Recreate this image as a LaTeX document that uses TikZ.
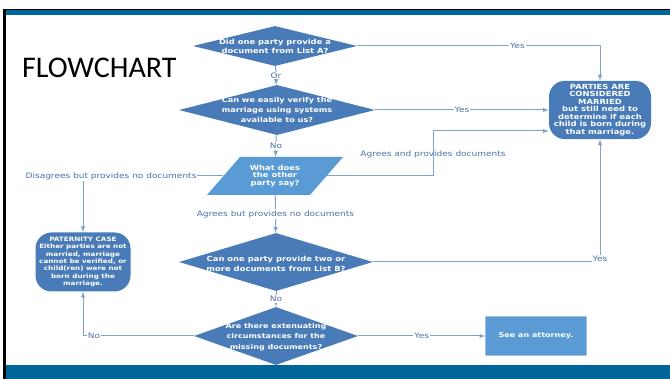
\documentclass[tikz,border=0pt]{standalone}
\usepackage{fontspec}
\setmainfont{DejaVu Sans}
\newfontfamily\widefont[FakeStretch=1.2]{DejaVu Sans}
\newfontfamily\titlefont{Carlito}
\usetikzlibrary{arrows}
\usetikzlibrary{shapes.geometric}
\definecolor{band}{RGB}{0,102,153}
\definecolor{boxblue}{RGB}{72,123,184}
\definecolor{lightbox}{RGB}{91,155,213}
\definecolor{linkblue}{RGB}{125,163,206}
\definecolor{lbltext}{RGB}{78,112,165}

\begin{document}
\begin{tikzpicture}[
		x=1pt,
		y=-1pt,
		>=latex,
		decision/.style={diamond, fill=boxblue, inner sep=0pt},
		txt/.style={text=white, font=\widefont\bfseries\fontsize{7.3}{9}\selectfont, align=center},
		io/.style={trapezium, trapezium left angle=49, trapezium right angle=131, fill=lightbox, inner xsep=35pt, inner ysep=19pt},
		outcome/.style={rectangle, rounded corners=16pt, fill=boxblue, text=white, align=center},
		link/.style={->, draw=linkblue, line width=1pt},
		lbl/.style={text=lbltext, font=\widefont\fontsize{7.5}{9}\selectfont, fill=white, inner sep=1pt}
	]
		\useasboundingbox (0,0) rectangle (670,379);
		\fill[black] (3,9) rectangle (6,379);
		\fill[black] (3,9) rectangle (670,10);
		\fill[band] (6,10) rectangle (670,15);
		\fill[band] (6,365) rectangle (670,379);
		\node[font=\titlefont\fontsize{30}{30}\selectfont, anchor=base west, inner sep=0pt] (title) at (22,78) {FLOWCHART};
		\node[decision, minimum width=164pt, minimum height=40pt] (d1) at (275,46) {};
		\node[txt, font=\widefont\bfseries\fontsize{7}{8.8}\selectfont] at (d1) {Did one party provide a\\document from List A?};
		\node[decision, minimum width=196pt, minimum height=50pt] (d2) at (277,110) {};
		\node[txt, font=\widefont\bfseries\fontsize{6.8}{10.2}\selectfont] at (d2) {Can we easily verify the\\marriage using systems\\available to us?};
		\node[io] (para) at (275,176) {};
		\node[txt, font=\widefont\bfseries\fontsize{7}{7.6}\selectfont] at (para) {What does\\the other\\party say?};
		\node[decision, minimum width=194pt, minimum height=58pt] (d3) at (276,262) {};
		\node[txt, font=\widefont\bfseries\fontsize{7}{10}\selectfont] at ([yshift=-2pt]d3) {Can one party provide two or\\more documents from List B?};
		\node[decision, minimum width=164pt, minimum height=58pt] (d4) at (276,336) {};
		\node[txt, font=\widefont\bfseries\fontsize{6.7}{10.5}\selectfont] at ([yshift=-1pt]d4) {Are there extenuating\\circumstances for the\\missing documents?};
		\node[outcome, minimum width=102pt, minimum height=58pt, font=\widefont\bfseries\fontsize{7}{7.5}\selectfont] (married) at (600,110) {PARTIES ARE\\CONSIDERED\\MARRIED\\but still need to\\determine if each\\child is born during\\that marriage.};
		\node[outcome, minimum width=95pt, minimum height=59pt, font=\widefont\bfseries\fontsize{6}{7.3}\selectfont] (paternity) at (83,262) {PATERNITY CASE\\Either parties are not\\married, marriage\\cannot be verified, or\\child(ren) were not\\born during the\\marriage.};
		\node[rectangle, fill=lightbox, draw=lightbox!60!white, minimum width=101pt, minimum height=39pt, txt, font=\widefont\bfseries\fontsize{6.7}{9}\selectfont] (atty) at (536,336) {See an attorney.};
		\coordinate (bend) at (433,131);
		\draw[link] (d1) -| node[lbl, pos=0.33] {Yes} (married);
		\draw[link] (d1) -- node[lbl] {Or} (d2);
		\draw[link] (d2) -- node[lbl] {Yes} (married);
		\draw[link] (d2) -- node[lbl] {No} (para);
		\draw[link] (para) -| node[lbl, pos=0.4] {Disagrees but provides no documents} (paternity);
		\draw[link] (para) -| node[lbl, pos=0.745, fill=none] {Agrees and provides documents} (bend) -- (bend -| married.west);
		\draw[link] (para) -- node[lbl] {Agrees but provides no documents} (d3);
		\draw[link] (d3) -| node[lbl, pos=0.5, yshift=3pt] {Yes} (married);
		\draw[link] (d3) -- node[lbl] {No} (d4);
		\draw[link] (d4) -- node[lbl] {Yes} (atty);
		\draw[link] (d4) -| node[lbl, pos=0.45] {No} (paternity);
	\end{tikzpicture}
\end{document}
